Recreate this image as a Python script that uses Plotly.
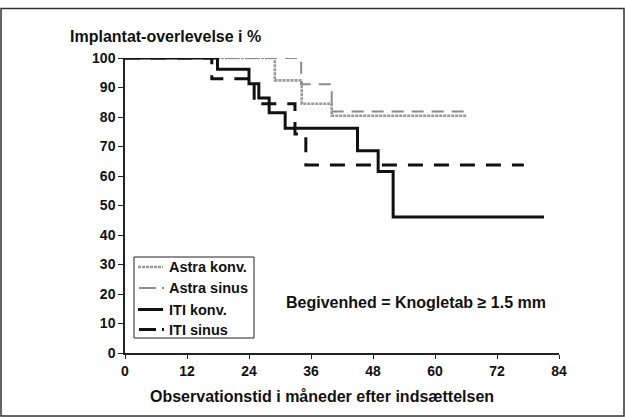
import plotly.graph_objects as go

# ---- data ----
months_astra_konv = [0, 29.0, 34.2, 40.0, 66.2]
surv_astra_konv = [100, 92.4, 84.5, 80.4, 80.4]

months_astra_sinus = [0, 34.1, 40.0, 66.2]
surv_astra_sinus = [100, 91.1, 81.9, 81.9]

months_iti_konv = [0, 17.9, 24.0, 25.9, 27.9, 31.0, 45.0, 49.0, 51.9, 81.1]
surv_iti_konv = [100, 96.2, 91.3, 86.4, 81.4, 76.2, 68.6, 61.5, 46.1, 46.1]

months_iti_sinus = [0, 16.8, 25.0, 32.9, 35.0, 77.2]
surv_iti_sinus = [100, 93.0, 84.5, 74.2, 63.7, 63.7]

series_names = ["Astra konv.", "Astra sinus", "ITI konv.", "ITI sinus"]
x_ticks = [0, 12, 24, 36, 48, 60, 72, 84]
y_ticks = [0, 10, 20, 30, 40, 50, 60, 70, 80, 90, 100]

FONT = "Liberation Sans, Arial, sans-serif"
INK = "#111111"

styles = [
    dict(color="#9a9a9a", width=2.6, dash="3px,1px"),
    dict(color="#8c8c8c", width=2, dash="12px,8px"),
    dict(color=INK, width=3, dash="solid"),
    dict(color=INK, width=3, dash="15px,11px"),
]
data = [(months_astra_konv, surv_astra_konv), (months_astra_sinus, surv_astra_sinus),
        (months_iti_konv, surv_iti_konv), (months_iti_sinus, surv_iti_sinus)]

fig = go.Figure()
for (xs, ys), name, st in zip(data, series_names, styles):
    fig.add_trace(go.Scatter(x=xs, y=ys, mode="lines", name=name,
                             line=dict(shape="hv", **st)))

L, R, T, B = 125, 66, 58, 64
W, H = 625, 417
pw, ph = W - L - R, H - T - B

def px2x(px):
    return (px - L) / pw

def py2y(py):
    return (H - B - py) / ph

fig.update_layout(
    width=W, height=H, autosize=False,
    margin=dict(l=L, r=R, t=T, b=B, pad=0),
    paper_bgcolor="white", plot_bgcolor="white",
    font=dict(family=FONT, color=INK, size=13, weight="bold"),
    showlegend=False,
    xaxis=dict(range=[0, 84], tickvals=x_ticks, ticktext=[str(v) for v in x_ticks],
               showgrid=False, zeroline=False, showline=True, linecolor="#222222", linewidth=1.5,
               ticks="outside", ticklen=4, tickcolor="#222222", tickwidth=1.2,
               tickfont=dict(family=FONT, size=14, weight="bold", color=INK)),
    yaxis=dict(range=[0, 100], tickvals=y_ticks, ticktext=[str(v) for v in y_ticks],
               showgrid=False, zeroline=False, showline=True, linecolor="#222222", linewidth=1.5,
               ticks="outside", ticklen=5, tickcolor="#222222", tickwidth=1.2,
               tickfont=dict(family=FONT, size=14, weight="bold", color=INK)),
)

# titles and note
fig.add_annotation(text="Implantat-overlevelse i %", xref="paper", yref="paper",
                   x=px2x(68), y=py2y(36), xanchor="left", yanchor="middle", showarrow=False,
                   font=dict(family=FONT, size=16, weight="bold", color=INK))
fig.add_annotation(text="Observationstid i måneder efter indsættelsen", xref="paper", yref="paper",
                   x=px2x(322), y=py2y(396), xanchor="center", yanchor="middle", showarrow=False,
                   font=dict(family=FONT, size=16, weight="bold", color=INK))
fig.add_annotation(text="Begivenhed = Knogletab \u2265 1.5 mm", xref="paper", yref="paper",
                   x=px2x(415.5), y=py2y(302), xanchor="center", yanchor="middle", showarrow=False,
                   font=dict(family=FONT, size=16, weight="bold", color=INK))

# legend box (drawn by hand to match the original layout)
fig.add_shape(type="rect", xref="paper", yref="paper",
              x0=px2x(134), x1=px2x(254), y0=py2y(338), y1=py2y(257),
              line=dict(color="#222222", width=1), fillcolor="white", layer="above")
row_y = [267, 288, 309.5, 329.5]
for name, st, ry in zip(series_names, styles, row_y):
    seg_dash = "solid" if st["dash"] == "solid" else ("dot" if st["dash"] == "3px,1px" else "solid")
    if st["dash"] in ("solid", "3px,1px"):
        fig.add_shape(type="line", xref="paper", yref="paper",
                      x0=px2x(138), x1=px2x(163), y0=py2y(ry), y1=py2y(ry),
                      line=dict(color=st["color"], width=st["width"],
                                dash="solid" if st["dash"] == "solid" else "3px,1px"),
                      layer="above")
    else:
        fig.add_shape(type="line", xref="paper", yref="paper",
                      x0=px2x(139), x1=px2x(156), y0=py2y(ry), y1=py2y(ry),
                      line=dict(color=st["color"], width=st["width"]), layer="above")
        fig.add_shape(type="line", xref="paper", yref="paper",
                      x0=px2x(162), x1=px2x(164), y0=py2y(ry), y1=py2y(ry),
                      line=dict(color=st["color"], width=st["width"]), layer="above")
    fig.add_annotation(text=name, xref="paper", yref="paper",
                       x=px2x(167), y=py2y(ry), xanchor="left", yanchor="middle", showarrow=False,
                       font=dict(family=FONT, size=14.5, weight="bold", color=INK))

# outer frame
fig.add_shape(type="rect", xref="paper", yref="paper",
              x0=px2x(1), x1=px2x(624), y0=py2y(416), y1=py2y(8.5),
              line=dict(color="#333333", width=1.5), fillcolor="rgba(0,0,0,0)", layer="below")

fig.write_html("out.html")
